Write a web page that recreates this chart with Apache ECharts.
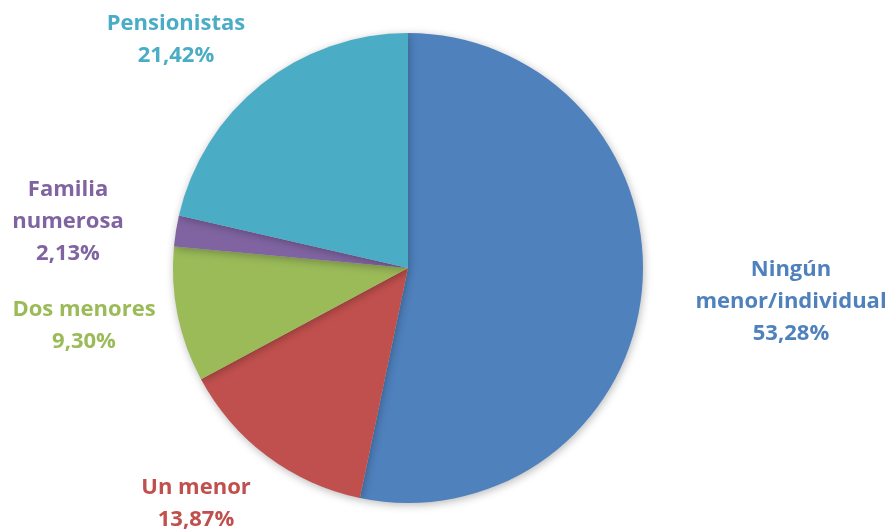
<!DOCTYPE html>
<html>
<head>
<meta charset="utf-8">
<script src="https://cdn.jsdelivr.net/npm/echarts@6/dist/echarts.min.js"></script>
<style>
  html, body { margin: 0; padding: 0; background: #ffffff; }
  #chart { width: 892px; height: 530px; }
</style>
</head>
<body>
<div id="chart"></div>
<script>
// Household categories and their share (%)
const categories = ['Ningún\nmenor/individual', 'Un menor', 'Dos menores', 'Familia\nnumerosa', 'Pensionistas'];
const shares = [53.28, 13.87, 9.30, 2.13, 21.42];
const sliceColors = ['#4F81BD', '#C0504D', '#9BBB59', '#8064A2', '#4BACC6'];

// Anchor point (centre) for each slice label
const labelAnchors = [[791, 302], [196, 504], [84, 326], [68, 222], [176, 40]];

const fmt = v => v.toFixed(2).replace('.', ',') + '%';

const chart = echarts.init(document.getElementById('chart'), null, { renderer: 'canvas' });

chart.setOption({
  backgroundColor: '#ffffff',
  animation: false,
  series: [{
    type: 'pie',
    center: [408, 268],
    radius: 235,
    startAngle: 90,
    clockwise: true,
    avoidLabelOverlap: false,
    data: categories.map((name, i) => ({
      name: name,
      value: shares[i],
      itemStyle: { color: sliceColors[i] },
      label: { color: sliceColors[i] }
    })),
    itemStyle: {
      shadowBlur: 8,
      shadowColor: 'rgba(0,0,0,0.28)',
      shadowOffsetX: 1,
      shadowOffsetY: 2
    },
    label: {
      show: true,
      position: 'outside',
      formatter: p => p.name + '\n' + fmt(p.value),
      fontFamily: '"Open Sans", Lato, sans-serif',
      fontWeight: 'bold',
      fontSize: 22,
      lineHeight: 32,
      align: 'center'
    },
    labelLine: { show: false },
    labelLayout: function (params) {
      const a = labelAnchors[params.dataIndex];
      return { x: a[0], y: a[1], align: 'center', verticalAlign: 'middle' };
    }
  }]
});
</script>
</body>
</html>
